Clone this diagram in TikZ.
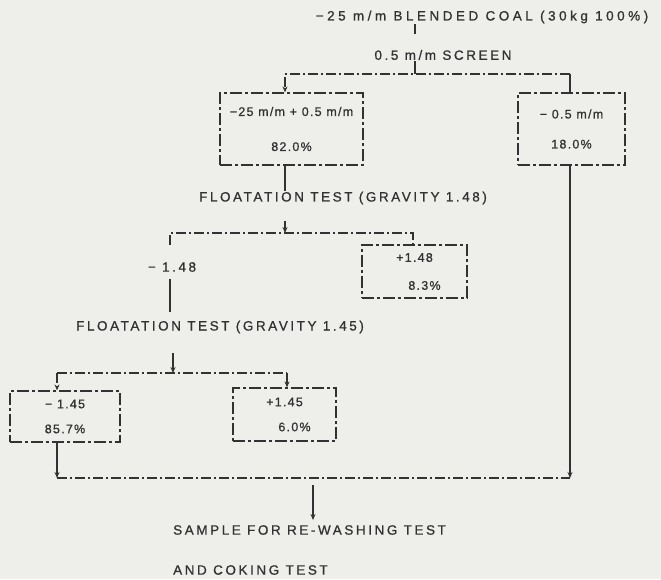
\documentclass[tikz,border=0pt]{standalone}
\usepackage{fontspec}
\setmainfont{Liberation Sans}
\usetikzlibrary{arrows.meta,calc}
\definecolor{paper}{RGB}{238,238,235}
\definecolor{ink}{RGB}{50,50,50}
\begin{document}
\begin{tikzpicture}[x=1pt,y=-1pt,
  txt/.style={text=ink, inner sep=1pt, font=\fontsize{13.5}{15}\selectfont\addfontfeatures{LetterSpace=19,FakeBold=0.8}},
  wide/.style={font=\fontsize{13.5}{15}\selectfont\addfontfeatures{LetterSpace=26,FakeBold=0.8}},
  btxt/.style={text=ink, font=\fontsize{12.5}{14}\selectfont\addfontfeatures{LetterSpace=10,FakeBold=0.8}},
  flow/.style={draw=ink, line width=1.2pt, dash pattern=on 10pt off 3pt on 2pt off 3pt},
  plain/.style={draw=ink, line width=1.2pt},
  arr/.style={-{Stealth[length=6pt,width=5pt]}},
  box/.style={draw=ink, line width=1.2pt, dash pattern=on 12pt off 3pt on 3pt off 3pt, inner sep=0pt, align=center, btxt}]
\fill[paper] (0,0) rectangle (661,579);
\useasboundingbox (0,0) rectangle (661,579);

% texts
\node[txt, wide] (t) at (482,17) {−25 m/m BLENDED COAL (30kg 100\%)};
\node[txt] (s) at (443,55) {0.5 m/m SCREEN};
\node[txt] (f1) at (343,198) {FLOATATION TEST (GRAVITY 1.48)};
\node[txt] (m1) at (172,267) {− 1.48};
\node[txt] (f2) at (220,327) {FLOATATION TEST (GRAVITY 1.45)};
\node[txt, anchor=west] (r1) at (172,530) {SAMPLE FOR RE-WASHING TEST};
\node[txt, anchor=west] (r2) at (172,570) {AND COKING TEST};

% boxes
\node[box, minimum width=143pt, minimum height=72pt] (b1) at (291.5,129) {−25 m/m + 0.5 m/m\\[21pt]82.0\%};
\node[box, minimum width=107pt, minimum height=72pt] (b2) at (571.5,129) {− 0.5 m/m\\[16pt]18.0\%};
\node[box, minimum width=105pt, minimum height=53pt] (b3) at (414.5,271.5) {+1.48\\[14pt]\hspace*{20pt}8.3\%};
\node[box, minimum width=110pt, minimum height=51pt] (b4) at (65,416.5) {− 1.45\\[11pt]85.7\%};
\node[box, minimum width=103pt, minimum height=53pt] (b5) at (284.5,414.5) {+1.45\\[11pt]\hspace*{20pt}6.0\%};

% junction coordinates
\coordinate (j0) at (415,74);
\coordinate (c1) at (285,74);
\coordinate (c2) at (570,74);
\coordinate (a1) at (285,233);
\coordinate (d1) at (170,233);
\coordinate (d2) at (413,233);
\coordinate (a2) at (173,373);
\coordinate (e1) at (57,373);
\coordinate (e2) at (287,373);
\coordinate (g1) at (57,478);
\coordinate (g2) at (570,478);
\coordinate (g3) at (313,478);

% top split
\draw[plain] (t.south -| j0) -- ++(0,10);
\draw[plain] (s.south -| j0) -- (j0);
\draw[flow,arr] (c2) -- (c1) -- (c1 |- b1.north);
\draw[plain] (c2) -- (c2 |- b2.north);

% first floatation
\draw[plain] (b1.south -| c1) -- (f1.north -| c1);
\draw[plain,arr] ($(a1)+(0,-12)$) -- (a1);
\draw[flow] ($(d1)+(0,12)$) -- (d1) -- (d2) -- (d2 |- b3.north);
\draw[plain] ($(m1.south -| d1)+(0,6)$) -- ($(f2.north -| d1)+(0,-8)$);

% second floatation
\draw[plain,arr] ($(a2)+(0,-20)$) -- (a2);
\draw[flow,arr] (e1) -- (e1 |- b4.north);
\draw[flow] (e1) -- (e2);
\draw[flow,arr] (e2) -- (e2 |- b5.north);

% collection
\draw[plain,arr] (b4.south -| g1) -- (g1);
\draw[flow] (g1) -- (g2);
\draw[plain,arr] (b2.south -| g2) -- (g2);
\draw[plain,arr] ($(g3)+(0,7)$) -- ($(r1.north -| g3)+(0,-4)$);
\end{tikzpicture}
\end{document}
